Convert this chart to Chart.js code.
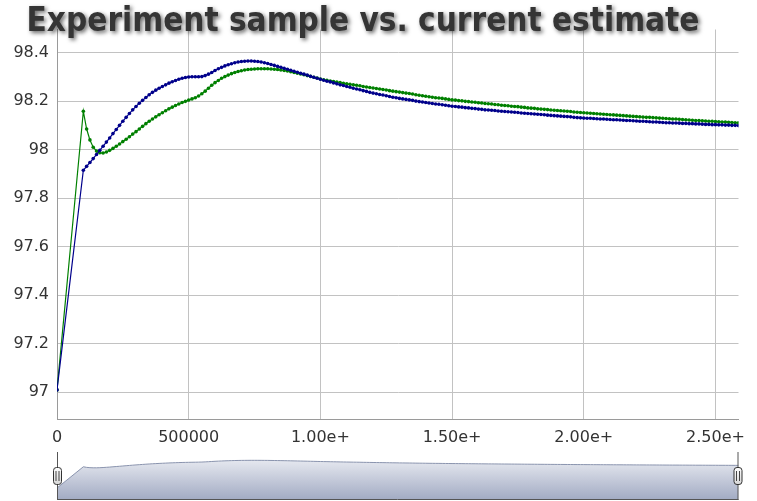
<!DOCTYPE html>
<html>
<head>
<meta charset="utf-8">
<script src="https://cdn.jsdelivr.net/npm/chart.js@4.4.0/dist/chart.umd.min.js"></script>
<style>
  html, body { margin: 0; padding: 0; background: #fff; }
  #wrap { position: relative; width: 757px; height: 501px; overflow: hidden; }
  #main  { position: absolute; left: 0; top: 0; }
  #range { position: absolute; left: 0; top: 445px; }
</style>
</head>
<body>
<div id="wrap">
  <canvas id="main" width="757" height="450"></canvas>
  <canvas id="range" width="757" height="56"></canvas>
</div>
<script>
/* ── Data ── */
const TITLE = 'Experiment sample vs. current estimate';

const XS = [
  0,
  100000,112500,125000,137500,150000,162500,175000,187500,
  200000,212500,225000,237500,250000,262500,275000,287500,
  300000,312500,325000,337500,350000,362500,375000,387500,
  400000,412500,425000,437500,450000,462500,475000,487500,
  500000,512500,525000,537500,550000,562500,575000,587500,
  600000,612500,625000,637500,650000,662500,675000,687500,
  700000,712500,725000,737500,750000,762500,775000,787500,
  800000,812500,825000,837500,850000,862500,875000,887500,
  900000,912500,925000,937500,950000,962500,975000,987500,
  1000000,1012500,1025000,1037500,1050000,1062500,1075000,1087500,
  1100000,1112500,1125000,1137500,1150000,1162500,1175000,1187500,
  1200000,1212500,1225000,1237500,1250000,1262500,1275000,1287500,
  1300000,1312500,1325000,1337500,1350000,1362500,1375000,1387500,
  1400000,1412500,1425000,1437500,1450000,1462500,1475000,1487500,
  1500000,1512500,1525000,1537500,1550000,1562500,1575000,1587500,
  1600000,1612500,1625000,1637500,1650000,1662500,1675000,1687500,
  1700000,1712500,1725000,1737500,1750000,1762500,1775000,1787500,
  1800000,1812500,1825000,1837500,1850000,1862500,1875000,1887500,
  1900000,1912500,1925000,1937500,1950000,1962500,1975000,1987500,
  2000000,2012500,2025000,2037500,2050000,2062500,2075000,2087500,
  2100000,2112500,2125000,2137500,2150000,2162500,2175000,2187500,
  2200000,2212500,2225000,2237500,2250000,2262500,2275000,2287500,
  2300000,2312500,2325000,2337500,2350000,2362500,2375000,2387500,
  2400000,2412500,2425000,2437500,2450000,2462500,2475000,2487500,
  2500000,2512500,2525000,2537500,2550000,2562500,2575000,2587500,
];

// current estimate (dark blue)
const BLUE = [
  97.010,
  97.915,97.931,97.947,97.963,97.980,97.997,98.014,98.031,
  98.048,98.066,98.083,98.100,98.117,98.133,98.149,98.164,
  98.178,98.191,98.203,98.215,98.226,98.236,98.245,98.253,
  98.260,98.267,98.274,98.280,98.285,98.290,98.294,98.297,
  98.299,98.300,98.300,98.300,98.301,98.305,98.311,98.318,
  98.326,98.333,98.339,98.345,98.350,98.354,98.358,98.361,
  98.363,98.364,98.365,98.365,98.364,98.363,98.361,98.358,
  98.355,98.351,98.347,98.343,98.339,98.335,98.331,98.327,
  98.323,98.319,98.315,98.311,98.307,98.302,98.298,98.294,
  98.290,98.286,98.282,98.279,98.275,98.271,98.267,98.264,
  98.260,98.257,98.253,98.250,98.247,98.243,98.240,98.236,
  98.233,98.230,98.227,98.225,98.222,98.219,98.216,98.214,
  98.211,98.209,98.207,98.205,98.203,98.200,98.198,98.196,
  98.194,98.192,98.190,98.188,98.187,98.185,98.183,98.181,
  98.179,98.178,98.176,98.175,98.173,98.172,98.170,98.169,
  98.167,98.166,98.164,98.163,98.162,98.161,98.159,98.158,
  98.157,98.156,98.155,98.154,98.153,98.151,98.150,98.149,
  98.148,98.147,98.146,98.145,98.144,98.142,98.141,98.140,
  98.139,98.138,98.137,98.136,98.135,98.133,98.132,98.131,
  98.130,98.129,98.129,98.128,98.127,98.126,98.126,98.125,
  98.124,98.123,98.123,98.122,98.121,98.120,98.120,98.119,
  98.118,98.117,98.117,98.116,98.115,98.114,98.114,98.113,
  98.112,98.111,98.111,98.110,98.110,98.109,98.108,98.108,
  98.107,98.107,98.106,98.106,98.105,98.104,98.104,98.103,
  98.103,98.102,98.102,98.101,98.101,98.100,98.100,98.099,
];

// experiment sample (green)
const GREEN = [
  97.010,
  98.158,98.085,98.040,98.010,97.994,97.987,97.986,97.990,
  97.997,98.005,98.014,98.023,98.033,98.043,98.053,98.064,
  98.074,98.085,98.096,98.107,98.117,98.126,98.135,98.144,
  98.152,98.160,98.168,98.175,98.182,98.188,98.194,98.199,
  98.204,98.209,98.214,98.221,98.230,98.241,98.253,98.265,
  98.276,98.285,98.294,98.301,98.307,98.313,98.318,98.322,
  98.325,98.328,98.330,98.331,98.332,98.333,98.333,98.333,
  98.333,98.332,98.331,98.330,98.328,98.326,98.324,98.321,
  98.318,98.315,98.312,98.309,98.305,98.302,98.298,98.295,
  98.291,98.288,98.286,98.283,98.281,98.278,98.276,98.273,
  98.271,98.269,98.267,98.265,98.263,98.260,98.258,98.256,
  98.254,98.252,98.250,98.248,98.246,98.243,98.241,98.239,
  98.237,98.235,98.233,98.231,98.229,98.226,98.224,98.222,
  98.220,98.218,98.216,98.214,98.213,98.211,98.209,98.207,
  98.205,98.204,98.202,98.201,98.199,98.198,98.196,98.195,
  98.193,98.192,98.190,98.189,98.188,98.186,98.185,98.183,
  98.182,98.181,98.179,98.178,98.177,98.175,98.174,98.172,
  98.171,98.170,98.168,98.167,98.166,98.165,98.163,98.162,
  98.161,98.160,98.159,98.158,98.157,98.155,98.154,98.153,
  98.152,98.151,98.150,98.149,98.148,98.147,98.146,98.145,
  98.144,98.143,98.142,98.141,98.140,98.139,98.138,98.137,
  98.136,98.135,98.134,98.133,98.133,98.132,98.131,98.130,
  98.129,98.128,98.127,98.126,98.126,98.125,98.124,98.123,
  98.122,98.121,98.120,98.120,98.119,98.118,98.117,98.117,
  98.116,98.115,98.114,98.114,98.113,98.112,98.111,98.111,
];

const X_TICKS  = [0, 500000, 1000000, 1500000, 2000000, 2500000];
const X_LABELS = ['0', '500000', '1.00e+', '1.50e+', '2.00e+', '2.50e+'];
const Y_TICKS  = [97, 97.2, 97.4, 97.6, 97.8, 98, 98.2, 98.4];
const Y_LABELS = ['97', '97.2', '97.4', '97.6', '97.8', '98', '98.2', '98.4'];

const X_MAX = XS[XS.length - 1];

/* ── Helpers ── */
const pts = ys => XS.map((x, i) => ({ x, y: ys[i] }));
const TICK_FONT = { family: 'DejaVu Sans', size: 16 };

/* ── Title with soft drop shadow ── */
const shadowTitle = {
  id: 'shadowTitle',
  afterDraw(chart) {
    const ctx = chart.ctx;
    ctx.save();
    ctx.font = 'bold 33px "DejaVu Sans Condensed"';
    ctx.fillStyle = '#353535';
    ctx.shadowColor = 'rgba(0,0,0,0.6)';
    ctx.shadowOffsetX = 2;
    ctx.shadowOffsetY = 2;
    ctx.shadowBlur = 4;
    ctx.textAlign = 'center';
    ctx.textBaseline = 'alphabetic';
    ctx.fillText(TITLE, 363, 31);
    ctx.restore();
  },
};

/* ── Main chart ── */
const mainChart = new Chart(document.getElementById('main'), {
  type: 'line',
  data: {
    datasets: [
      {
        label: 'Current estimate',
        data: pts(BLUE),
        borderColor: '#00008b',
        backgroundColor: '#00008b',
        borderWidth: 1.2,
        pointRadius: 1.8, pointBorderWidth: 0, pointHoverRadius: 1.8,
        tension: 0, fill: false,
      },
      {
        label: 'Experiment sample',
        data: pts(GREEN),
        borderColor: '#008000',
        backgroundColor: '#008000',
        borderWidth: 1.2,
        pointRadius: 1.8, pointBorderWidth: 0, pointHoverRadius: 1.8,
        tension: 0, fill: false,
      },
    ],
  },
  options: {
    responsive: false,
    animation: false,
    events: [],
    layout: { padding: { left: 0, top: 29.5, right: 18.5, bottom: 0 } },
    plugins: { legend: { display: false }, tooltip: { enabled: false }, title: { display: false } },
    scales: {
      x: {
        type: 'linear',
        min: 0, max: X_MAX,
        afterFit: s => { s.height = 31; },
        afterBuildTicks: s => { s.ticks = X_TICKS.map(v => ({ value: v })); },
        grid: { color: '#c2c2c2', drawTicks: false },
        border: { color: '#9a9a9a' },
        ticks: {
          font: TICK_FONT, color: '#333', padding: 9, maxRotation: 0,
          callback: v => X_LABELS[X_TICKS.indexOf(v)],
        },
      },
      y: {
        min: 96.89, max: 98.495,
        afterFit: s => { s.width = 57; },
        afterBuildTicks: s => { s.ticks = Y_TICKS.map(v => ({ value: v })); },
        grid: { color: '#c2c2c2', drawTicks: false },
        border: { color: '#9a9a9a' },
        ticks: {
          font: TICK_FONT, color: '#333', padding: 8,
          callback: v => Y_LABELS[Y_TICKS.findIndex(t => Math.abs(t - v) < 1e-9)],
        },
      },
    },
  },
  plugins: [shadowTitle],
});

/* ── Range selector strip ── */
function handle(ctx, cx, top) {
  const w = 9, h = 18, x = cx - w / 2;
  const g = ctx.createLinearGradient(0, top, 0, top + h);
  g.addColorStop(0, '#ffffff');
  g.addColorStop(1, '#d6d6d6');
  ctx.beginPath();
  ctx.roundRect(x + 0.5, top + 0.5, w - 1, h - 1, 3);
  ctx.fillStyle = g;
  ctx.fill();
  ctx.strokeStyle = '#333';
  ctx.lineWidth = 1;
  ctx.stroke();
  ctx.beginPath();
  ctx.moveTo(cx - 1.5, top + 4); ctx.lineTo(cx - 1.5, top + h - 4);
  ctx.moveTo(cx + 1.5, top + 4); ctx.lineTo(cx + 1.5, top + h - 4);
  ctx.strokeStyle = '#444';
  ctx.stroke();
}

const rangeFrame = {
  id: 'rangeFrame',
  afterDraw(chart) {
    const { ctx, chartArea: a } = chart;
    ctx.save();
    ctx.strokeStyle = '#555';
    ctx.lineWidth = 1;
    ctx.beginPath();
    ctx.moveTo(a.left + 0.5, a.top);   ctx.lineTo(a.left + 0.5, a.bottom + 1);
    ctx.moveTo(a.right - 0.5, a.top);  ctx.lineTo(a.right - 0.5, a.bottom + 1);
    ctx.moveTo(a.left, a.bottom + 0.5); ctx.lineTo(a.right, a.bottom + 0.5);
    ctx.stroke();
    handle(ctx, a.left + 0.5, 22);
    handle(ctx, a.right - 0.5, 22);
    ctx.restore();
  },
};

const rangeChart = new Chart(document.getElementById('range'), {
  type: 'line',
  data: {
    datasets: [{
      data: XS.map((x, i) => ({ x, y: (BLUE[i] + GREEN[i]) / 2 })),
      borderColor: '#8a94ae',
      borderWidth: 1,
      pointRadius: 0,
      tension: 0,
      fill: 'start',
      backgroundColor: c => {
        const a = c.chart.chartArea;
        if (!a) return '#c9cfdc';
        const g = c.chart.ctx.createLinearGradient(0, a.top, 0, a.bottom);
        g.addColorStop(0, '#f3f4f8');
        g.addColorStop(1, '#a3acc4');
        return g;
      },
    }],
  },
  options: {
    responsive: false,
    animation: false,
    events: [],
    layout: { padding: { left: 57, right: 18.5, top: 7, bottom: 2 } },
    plugins: { legend: { display: false }, tooltip: { enabled: false } },
    scales: {
      x: { type: 'linear', min: 0, max: X_MAX, display: false },
      y: { min: 96.48, max: 98.75, display: false },
    },
  },
  plugins: [rangeFrame],
});
</script>
</body>
</html>
